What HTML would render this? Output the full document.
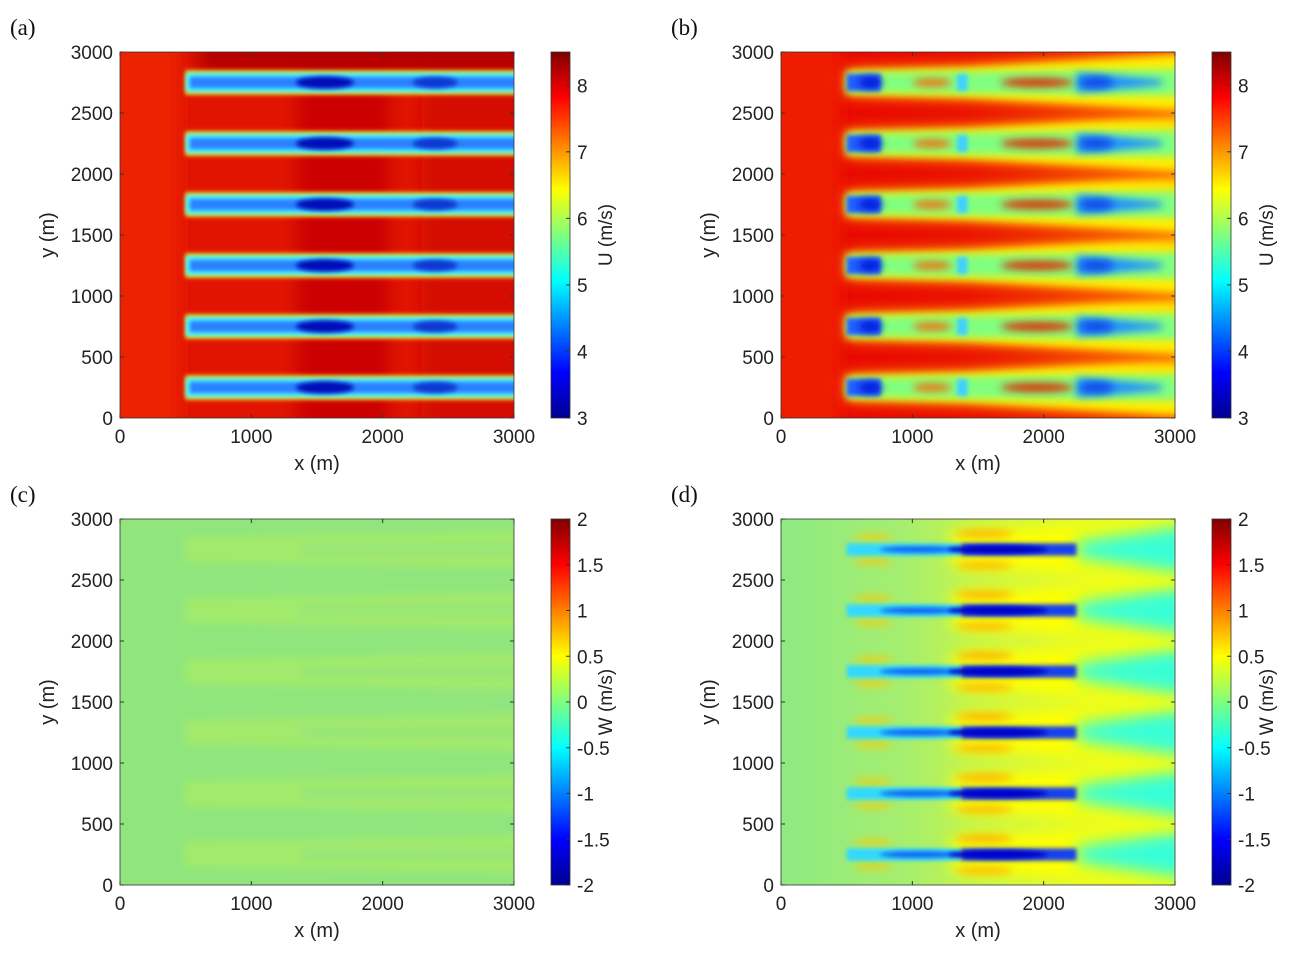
<!DOCTYPE html>
<html><head><meta charset="utf-8"><style>
body{margin:0;background:#fff;}
svg{display:block;font-family:"Liberation Sans",sans-serif;}
</style></head><body>
<svg id="fig" width="1314" height="954" viewBox="0 0 1314 954" xmlns="http://www.w3.org/2000/svg">
<defs>
<linearGradient id="jet" x1="0" y1="1" x2="0" y2="0">
<stop offset="0" stop-color="#00008f"/><stop offset="0.125" stop-color="#0000ff"/><stop offset="0.375" stop-color="#00ffff"/><stop offset="0.625" stop-color="#ffff00"/><stop offset="0.875" stop-color="#ff0000"/><stop offset="1" stop-color="#800000"/>
</linearGradient>
<linearGradient id="dbg" x1="0" y1="0" x2="1" y2="0">
<stop offset="0" stop-color="#8eea82"/><stop offset="0.3" stop-color="#a4ee70"/><stop offset="0.5" stop-color="#c4f44c"/><stop offset="1" stop-color="#f0ff24"/>
</linearGradient>
<filter id="b2" filterUnits="userSpaceOnUse" x="0" y="0" width="1314" height="954"><feGaussianBlur stdDeviation="2"/></filter>
<filter id="b4" filterUnits="userSpaceOnUse" x="0" y="0" width="1314" height="954"><feGaussianBlur stdDeviation="4"/></filter>
<filter id="b8" filterUnits="userSpaceOnUse" x="0" y="0" width="1314" height="954"><feGaussianBlur stdDeviation="8"/></filter>
</defs>
</svg>
<script>
const rowsY=[250,750,1250,1750,2250,2750];
const turbineX=[500,1375,2250];
const xTicks=[0,1000,2000,3000];
const yTicks=[0,500,1000,1500,2000,2500,3000];
const uTicks=[3,4,5,6,7,8];
const uRange=[3,8.5];
const wTicks=[-2,-1.5,-1,-0.5,0,0.5,1,1.5,2];
const wRange=[-2,2];
const NS='http://www.w3.org/2000/svg';
const svg=document.getElementById('fig');
function mk(tag,attrs,parent){const e=document.createElementNS(NS,tag);for(const k in attrs)e.setAttribute(k,attrs[k]);(parent||svg).appendChild(e);return e;}
const panels=[
 {id:'a',x0:120,y0:52,type:'a',cb:'U (m/s)'},
 {id:'b',x0:781,y0:52,type:'b',cb:'U (m/s)'},
 {id:'c',x0:120,y0:519,type:'c',cb:'W (m/s)'},
 {id:'d',x0:781,y0:519,type:'d',cb:'W (m/s)'}];
const W=394,H=366;
panels.forEach(p=>{
 const sx=v=>p.x0+v/3000*W, sy=v=>p.y0+H-v/3000*H;
 const ly=v=>v/3000*H;
 const g=mk('g',{});
 
 
 const cid='clip'+p.id;
 const cp=mk('clipPath',{id:cid},g);mk('rect',{x:p.x0,y:p.y0,width:W,height:H},cp);
 const hm=mk('g',{'clip-path':'url(#'+cid+')'},g);
 
 
 const R=(x1,x2,yc,h,fill,f)=>mk('rect',{x:sx(x1),y:sy(yc)-ly(h),width:sx(x2)-sx(x1),height:2*ly(h),fill:fill,filter:f?'url(#'+f+')':''},hm);
 const E=(xc,yc,rx,ry,fill,f)=>mk('ellipse',{cx:sx(xc),cy:sy(yc),rx:rx/3000*W,ry:ly(ry),fill:fill,filter:f?'url(#'+f+')':''},hm);
 const P=(pts,fill,f)=>mk('polygon',{points:pts.map(q=>sx(q[0])+','+sy(q[1])).join(' '),fill:fill,filter:f?'url(#'+f+')':''},hm);
 const t0=turbineX[0],t1=turbineX[1],t2=turbineX[2];
 if(p.type==='a'){
  mk('rect',{x:p.x0,y:p.y0,width:W,height:H,fill:'#e01400'},hm);
  R(-200,450,1500,1700,'#ec2000','b8');
  R(1350,2050,1500,1600,'#cc0600','b8');
  R(2300,3200,1500,1600,'#d40c00','b8');
  R(600,3200,2950,150,'#b80000','b8');
  rowsY.forEach(y=>{
   R(t0,3100,y,100,'#ffc800','b2');
   R(t0,3100,y,82,'#48ffff','b2');
   R(t0+30,3100,y,48,'#2a80ff','b2');
   E(1560,y,220,50,'#0010b8','b2');
   E(2400,y,170,45,'#0838d0','b2');
  });
 } else if(p.type==='b'){
  mk('rect',{x:p.x0,y:p.y0,width:W,height:H,fill:'#e80800'},hm);
  R(-200,450,1500,1700,'#f01a00','b8');
  rowsY.forEach(y=>{
   P([[t0,y+110],[1400,y+150],[3100,y+290],[3100,y-290],[1400,y-150],[t0,y-110]],'#ff8000','b8');
   P([[t0,y+95],[1400,y+120],[3100,y+230],[3100,y-230],[1400,y-120],[t0,y-95]],'#ffee00','b4');
   P([[t0,y+80],[1400,y+90],[2250,y+100],[3100,y+110],[3100,y-110],[2250,y-100],[1400,y-90],[t0,y-80]],'#80ff80','b4');
   R(t0,760,y,70,'#2060ff','b2');
   E(680,y,90,45,'#0018d8','b4');
   E(1150,y,150,30,'#ff6000','b4');
   E(1950,y,280,35,'#e02000','b4');
   R(1340,1420,y,70,'#40d0ff','b2');
   P([[t2,y+80],[2500,y+60],[2900,y+20],[2900,y-20],[2500,y-60],[t2,y-80]],'#2090ff','b4');
   E(2400,y,130,45,'#0848e8','b4');
  });
 } else if(p.type==='c'){
  mk('rect',{x:p.x0,y:p.y0,width:W,height:H,fill:'#90e67c'},hm);
  rowsY.forEach(y=>{
   P([[t0,y+100],[3100,y+150],[3100,y-150],[t0,y-100]],'#a2ea6c','b4');
   R(t1,3100,y,50,'#98e676','b4');
  });
 } else {
  mk('rect',{x:p.x0,y:p.y0,width:W,height:H,fill:'url(#dbg)'},hm);
  rowsY.forEach(y=>{
   P([[1300,y+140],[3100,y+260],[3100,y-260],[1300,y-140]],'#ffff00','b8');
   P([[t2,y+70],[3100,y+200],[3100,y-200],[t2,y-70]],'#38ffd8','b8');
   E(700,y+100,150,20,'#ffc800','b4');E(700,y-100,150,20,'#ffc800','b4');
   E(1550,y+130,220,30,'#ffb000','b4');E(1550,y-130,220,30,'#ffb800','b4');
   R(t0,t1,y,50,'#30d8ff','b2');
   E(1050,y,300,25,'#1060f0','b2');
   R(t1,t2,y,50,'#1840f0','b2');
   E(1650,y,380,35,'#0000c8','b2');
  });
 }
 mk('rect',{x:p.x0,y:p.y0,width:W,height:H,fill:'none',stroke:'#333','stroke-width':0.8},g);
 xTicks.forEach(t=>{
  mk('line',{x1:sx(t),x2:sx(t),y1:p.y0+H,y2:p.y0+H-4,stroke:'#333'},g);
  mk('line',{x1:sx(t),x2:sx(t),y1:p.y0,y2:p.y0+4,stroke:'#333'},g);
  const tx=mk('text',{x:sx(t),y:p.y0+H+25,'font-size':19,'text-anchor':'middle',fill:'#222'},g);tx.textContent=t;
  
  
 });
 yTicks.forEach(t=>{
  mk('line',{x1:p.x0,x2:p.x0+4,y1:sy(t),y2:sy(t),stroke:'#333'},g);
  mk('line',{x1:p.x0+W,x2:p.x0+W-4,y1:sy(t),y2:sy(t),stroke:'#333'},g);
  const tx=mk('text',{x:p.x0-7,y:sy(t)+7,'font-size':19,'text-anchor':'end',fill:'#222'},g);tx.textContent=t;
  
  
 });
 const xl=mk('text',{x:p.x0+W/2,y:p.y0+H+52,'font-size':20,'text-anchor':'middle',fill:'#222'},g);xl.textContent='x (m)';
 
 
 const yl=mk('text',{x:0,y:0,'font-size':20,'text-anchor':'middle',fill:'#222',transform:'translate('+(p.x0-66)+','+(p.y0+H/2)+') rotate(-90)'},g);yl.textContent='y (m)';
 
 
 const pl=mk('text',{x:p.x0-110,y:p.y0-17,'font-size':23,fill:'#111','font-family':'Liberation Serif, serif'},g);pl.textContent='('+p.id+')';
 
 
 const cx=p.x0+W+37;
 const cb=mk('g',{},g);
 
 
 mk('rect',{x:cx,y:p.y0,width:19,height:H,fill:'url(#jet)',stroke:'#333','stroke-width':0.8},cb);
 const ticks=p.cb[0]==='U'?uTicks:wTicks, rg=p.cb[0]==='U'?uRange:wRange;
 ticks.forEach(t=>{
  const yy=p.y0+H-(t-rg[0])/(rg[1]-rg[0])*H;
  mk('line',{x1:cx+19,x2:cx+15,y1:yy,y2:yy,stroke:'#333'},cb);
  const tx=mk('text',{x:cx+26,y:yy+7,'font-size':19,fill:'#222'},cb);tx.textContent=t;
  
  
 });
 const cl=mk('text',{x:0,y:0,'font-size':19,'text-anchor':'middle',fill:'#222',transform:'translate('+(cx+61)+','+(p.y0+H/2)+') rotate(-90)'},cb);cl.textContent=p.cb;
 
 
});
</script>
</body></html>
